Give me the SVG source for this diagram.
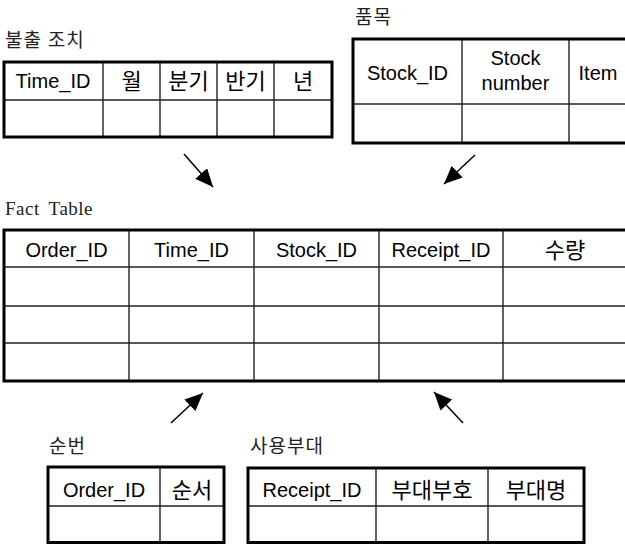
<svg xmlns="http://www.w3.org/2000/svg" width="625" height="544" viewBox="0 0 625 544">
<style>
.outer{fill:none;stroke:#000;stroke-width:3}
.inner{stroke:#222;stroke-width:1.4}
.hd{font-family:"Liberation Sans","Noto Sans CJK KR",Arial,sans-serif;font-size:20px;fill:#000;text-anchor:middle}
.hk{font-size:22px}
.lbl{font-family:"Liberation Serif","Noto Sans CJK KR",serif;font-size:19px;fill:#222;letter-spacing:1px}
.conn{stroke:#000;stroke-width:1.5;fill:none}
</style>
<defs>
<marker id="ah" markerUnits="userSpaceOnUse" markerWidth="20" markerHeight="16" refX="18" refY="8" orient="auto">
<path d="M0,0 L18,8 L0,16 Z" fill="#000"/>
</marker>
</defs>
<rect width="625" height="544" fill="#fff"/>

<g id="t-time">
<text class="lbl" x="5" y="47">불출 조치</text>
<line class="inner" x1="4" y1="100" x2="332" y2="100"/>
<line class="inner" x1="103" y1="62" x2="103" y2="137"/>
<line class="inner" x1="160" y1="62" x2="160" y2="137"/>
<line class="inner" x1="217" y1="62" x2="217" y2="137"/>
<line class="inner" x1="274" y1="62" x2="274" y2="137"/>
<rect class="outer" x="4" y="62" width="328" height="75"/>
<text class="hd" x="53" y="88">Time_ID</text>
<text class="hd hk" x="131.5" y="89">월</text>
<text class="hd hk" x="188.5" y="89">분기</text>
<text class="hd hk" x="245.5" y="89">반기</text>
<text class="hd hk" x="303" y="89">년</text>
</g>

<g id="t-stock">
<text class="lbl" x="355" y="24">품목</text>
<line class="inner" x1="353" y1="104" x2="630" y2="104"/>
<line class="inner" x1="462" y1="39" x2="462" y2="143"/>
<line class="inner" x1="569" y1="39" x2="569" y2="143"/>
<rect class="outer" x="353" y="39" width="280" height="104"/>
<text class="hd" x="407.5" y="80">Stock_ID</text>
<text class="hd" x="515.5" y="65">Stock</text>
<text class="hd" x="515.5" y="90">number</text>
<text class="hd" x="598" y="80">Item</text>
</g>

<g id="t-fact">
<text class="lbl" x="5" y="215" style="letter-spacing:0.5px;word-spacing:4px">Fact Table</text>
<line class="inner" x1="4" y1="267" x2="630" y2="267"/>
<line class="inner" x1="4" y1="306" x2="630" y2="306" stroke="#555"/>
<line class="inner" x1="4" y1="343" x2="630" y2="343" stroke="#555"/>
<line class="inner" x1="129" y1="230" x2="129" y2="381"/>
<line class="inner" x1="254" y1="230" x2="254" y2="381"/>
<line class="inner" x1="379" y1="230" x2="379" y2="381"/>
<line class="inner" x1="503" y1="230" x2="503" y2="381"/>
<rect class="outer" x="4" y="230" width="630" height="151"/>
<text class="hd" x="66.5" y="257">Order_ID</text>
<text class="hd" x="191.5" y="257">Time_ID</text>
<text class="hd" x="316.5" y="257">Stock_ID</text>
<text class="hd" x="441" y="257">Receipt_ID</text>
<text class="hd hk" x="565" y="258">수량</text>
</g>

<g id="t-order">
<text class="lbl" x="49" y="453">순번</text>
<line class="inner" x1="48" y1="506" x2="224" y2="506"/>
<line class="inner" x1="160" y1="467" x2="160" y2="543"/>
<rect class="outer" x="48" y="467" width="176" height="75.5"/>
<text class="hd" x="104" y="497">Order_ID</text>
<text class="hd hk" x="192" y="498">순서</text>
</g>

<g id="t-receipt">
<text class="lbl" x="250" y="453">사용부대</text>
<line class="inner" x1="248" y1="506" x2="584" y2="506"/>
<line class="inner" x1="376" y1="468" x2="376" y2="543"/>
<line class="inner" x1="488" y1="468" x2="488" y2="543"/>
<rect class="outer" x="248" y="468" width="336" height="74.5"/>
<text class="hd" x="312" y="497">Receipt_ID</text>
<text class="hd hk" x="432" y="498">부대부호</text>
<text class="hd hk" x="536" y="498">부대명</text>
</g>

<g id="connectors">
<line class="conn" x1="184" y1="154" x2="213" y2="187" marker-end="url(#ah)"/>
<line class="conn" x1="475" y1="155" x2="444" y2="184" marker-end="url(#ah)"/>
<line class="conn" x1="171" y1="423" x2="203" y2="393" marker-end="url(#ah)"/>
<line class="conn" x1="463" y1="423" x2="434" y2="392" marker-end="url(#ah)"/>
</g>
</svg>
